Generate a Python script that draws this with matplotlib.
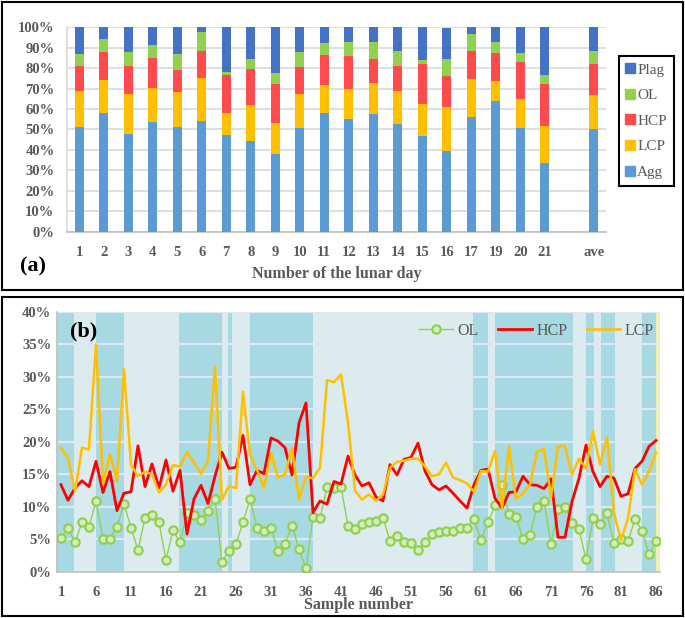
import numpy as np
import matplotlib
matplotlib.use("Agg")
import matplotlib.pyplot as plt
from matplotlib.lines import Line2D
from matplotlib.patches import Rectangle

plt.rcParams['font.family'] = ['Liberation Serif', 'DejaVu Serif']

### panel (a) data: percent of each phase per lunar day
days = ['1', '2', '3', '4', '5', '6', '7', '8', '9', '10', '11', '12', '13',
        '14', '15', '16', '17', '19', '20', '21', 'ave']
agg = [51.1, 57.9, 47.6, 53.5, 51.4, 54.0, 47.1, 44.4, 38.2, 50.9, 58.1, 55.1,
       57.4, 52.7, 46.8, 39.3, 56.3, 64.1, 50.9, 33.8, 50.2]
lcp_a = [17.7, 16.5, 19.9, 16.6, 17.1, 21.2, 11.0, 17.8, 15.1, 16.3, 13.8, 14.9,
         15.5, 16.1, 15.7, 21.5, 18.4, 9.6, 14.0, 18.1, 16.7]
hcp_a = [12.3, 13.5, 13.6, 14.7, 10.8, 13.2, 18.4, 17.4, 18.8, 13.6, 14.4, 16.0,
         11.4, 12.4, 19.6, 15.2, 13.9, 13.6, 18.3, 20.2, 15.2]
ol_a = [5.8, 6.2, 6.7, 6.6, 7.5, 9.3, 1.6, 5.1, 5.6, 7.1, 6.2, 7.0,
        8.7, 7.1, 1.7, 8.3, 8.0, 5.4, 4.4, 4.7, 6.2]
plag = [13.1, 5.9, 12.2, 8.6, 13.2, 2.3, 21.9, 15.3, 22.3, 12.1, 7.5, 7.0,
        7.0, 11.7, 16.2, 15.2, 3.4, 7.3, 12.4, 23.2, 11.7]

### panel (b) data: percent per sample
samples = np.arange(1, 87)
ol_b = [5.2, 6.7, 4.5, 7.6, 6.9, 10.9, 5.0, 5.0, 6.9, 10.4, 6.8, 3.3, 8.3, 8.7,
        7.6, 1.8, 6.4, 4.5, 9.0, 8.8, 7.9, 9.4, 11.2, 1.5, 3.2, 4.3, 7.6, 11.2,
        6.8, 6.3, 6.8, 3.2, 4.3, 7.1, 3.5, 0.5, 8.5, 8.2, 13.0, 12.9, 13.1, 7.1,
        6.5, 7.4, 7.7, 7.8, 8.3, 4.7, 5.5, 4.6, 4.4, 3.3, 4.6, 5.8, 6.1, 6.2,
        6.3, 6.7, 6.7, 8.1, 4.9, 7.6, 10.2, 13.3, 8.9, 8.5, 5.0, 5.7, 10.0, 10.9,
        4.2, 9.6, 10.0, 7.5, 6.5, 1.9, 8.2, 7.4, 9.0, 4.4, 5.1, 4.7, 8.1, 6.3,
        2.7, 4.7]
hcp_b = [13.4, 11.0, 12.9, 14.0, 13.1, 17.0, 12.2, 15.4, 9.4, 12.1, 12.3, 19.4,
         13.1, 16.6, 12.9, 17.2, 12.4, 15.6, 5.8, 11.2, 13.3, 10.5, 14.7, 18.4,
         15.9, 16.1, 21.0, 13.4, 15.6, 15.1, 20.6, 20.1, 19.1, 14.9, 22.9, 26.0,
         9.1, 10.9, 10.4, 13.9, 13.5, 17.8, 14.9, 13.2, 13.7, 11.5, 10.9, 16.5,
         14.9, 17.3, 17.6, 19.8, 15.5, 13.4, 12.6, 13.2, 12.1, 10.9, 9.8, 13.4,
         15.6, 15.8, 11.3, 9.8, 12.2, 12.3, 14.7, 13.4, 13.3, 12.8, 14.3, 5.3,
         5.3, 10.8, 14.4, 19.5, 15.4, 13.1, 14.7, 14.4, 11.6, 12.0, 15.9, 17.0,
         19.3, 20.2]
lcp_b = [19.1, 17.5, 12.4, 19.1, 18.8, 35.0, 13.6, 18.1, 13.9, 31.2, 16.5, 14.7,
         15.4, 15.0, 12.2, 13.4, 16.4, 16.2, 18.4, 16.8, 15.1, 17.0, 31.6, 11.1,
         13.2, 12.9, 27.7, 18.0, 15.7, 12.9, 18.3, 14.5, 15.0, 19.0, 11.1, 14.6,
         14.4, 16.0, 29.5, 29.2, 30.4, 23.0, 12.5, 11.1, 11.9, 10.9, 11.9, 16.0,
         16.9, 17.1, 17.4, 17.4, 16.2, 14.7, 15.0, 16.8, 14.5, 14.1, 13.6, 12.3,
         15.5, 15.4, 18.6, 9.8, 19.3, 11.2, 12.1, 13.4, 18.5, 18.9, 11.4, 19.3,
         19.4, 15.0, 17.4, 15.9, 21.6, 16.5, 20.7, 9.0, 4.9, 8.2, 15.8, 13.4,
         15.4, 18.4]

### background bands of panel (b), in sample units
dark_bands = [(0.43, 2.86), (6.0, 10.0), (17.86, 24.0), (24.86, 25.43),
              (28.0, 37.0), (59.86, 62.0), (63.0, 74.14), (76.0, 77.14),
              (78.14, 80.14), (84.0, 86.0)]

gray = '#595959'
tick_font = {'family': 'Liberation Serif', 'weight': 'bold', 'size': 10.5}

fig = plt.figure(figsize=(6.85, 6.18), dpi=100)

### panel frames
for y0, y1 in [(2, 290), (297, 616)]:
    fig.patches.append(Rectangle((2 / 685, 1 - y1 / 618), 681 / 685, (y1 - y0) / 618,
                                 transform=fig.transFigure, fill=False,
                                 ec='black', lw=1.5))

########################################### panel (a) ###########################################
ax1 = fig.add_axes([67 / 685, 1 - 231.7 / 618, 539 / 685, 204.4 / 618])
x = np.arange(len(days), dtype=float)
x[-1] += 1  ### empty slot before the average bar
w = 0.38
colors = {'Agg': '#5b9bd5', 'LCP': '#ffc000', 'HCP': '#ff4b4b',
          'OL': '#92d050', 'Plag': '#4472c4'}
bottom = np.zeros(len(days))
for name, vals in [('Agg', agg), ('LCP', lcp_a), ('HCP', hcp_a), ('OL', ol_a), ('Plag', plag)]:
    ax1.bar(x, vals, w, bottom=bottom, color=colors[name], zorder=3)
    bottom += np.array(vals)

ax1.set_xlim(-0.5, len(days) + 0.5)
ax1.set_ylim(0, 100)
ax1.set_yticks(np.arange(0, 101, 10))
ax1.set_yticklabels([f"{v}%" for v in range(0, 101, 10)], fontdict=tick_font, color=gray)
ax1.set_xticks(x)
ax1.set_xticklabels(days, fontdict=tick_font, color=gray)
ax1.tick_params(axis='both', length=0)
ax1.tick_params(axis='x', pad=10)
ax1.tick_params(axis='y', pad=9)
ax1.grid(axis='y', color='#d9d9d9', lw=1.2, zorder=0)
for s in ['top', 'right']:
    ax1.spines[s].set_visible(False)
ax1.spines['left'].set_color('#d9d9d9')
ax1.spines['bottom'].set_color('#bfbfbf')
ax1.spines['left'].set_linewidth(1.2)
ax1.spines['bottom'].set_linewidth(1.2)
ax1.set_xlabel('Number of the lunar day', fontsize=11.5, fontweight='bold',
               color=gray, labelpad=5)
fig.text(20 / 685, 1 - 266 / 618, '(a)', fontsize=16, fontweight='bold', va='center')

handles = [Line2D([], [], marker='s', ls='none', color=colors[n], markersize=6.5)
           for n in ['Plag', 'OL', 'HCP', 'LCP', 'Agg']]
leg = fig.legend(handles, ['Plag', 'OL', 'HCP', 'LCP', 'Agg'], loc='upper left',
                 bbox_to_anchor=(619 / 685, 1 - 56 / 618), borderaxespad=0,
                 fancybox=False, edgecolor='black', framealpha=1,
                 prop={'family': 'Liberation Serif', 'size': 11},
                 handlelength=0.6, handletextpad=0.15, labelspacing=0.78,
                 borderpad=0.45)
leg.get_frame().set_linewidth(1.5)
for t in leg.get_texts():
    t.set_color(gray)

########################################### panel (b) ###########################################
ax2 = fig.add_axes([57 / 685, 1 - 571.7 / 618, 603 / 685, 259.7 / 618])
ax2.set_facecolor('#dcecee')
for a, b in dark_bands:
    ax2.axvspan(a, b, color='#a6d9e1', lw=0, zorder=0.2)
ax2.axvspan(86.0, 86.45, color='#eef0b8', lw=0, zorder=0.2)
ax2.set_axisbelow(True)
ax2.grid(axis='y', color='#dde6f4', lw=1.6)

ax2.plot(samples, ol_b, color='#92d050', lw=1, marker='o', markersize=6,
         markerfacecolor='#d5ebc0', markeredgecolor='#92d050', markeredgewidth=1.6,
         label='OL', zorder=3)
ax2.plot(samples, hcp_b, color='#ff0000', lw=2, label='HCP', zorder=4)
ax2.plot(samples, lcp_b, color='#ffc000', lw=1.8, label='LCP', zorder=5)

ax2.set_xlim(0.43, 86.57)
ax2.set_ylim(0, 40)
ax2.set_yticks(np.arange(0, 41, 5))
ax2.set_yticklabels([f"{v}%" for v in range(0, 41, 5)], fontdict=tick_font, color=gray)
ax2.set_xticks(np.arange(1, 87, 5))
ax2.set_xticklabels([str(v) for v in range(1, 87, 5)], fontdict=tick_font, color=gray)
ax2.tick_params(axis='both', length=0)
ax2.tick_params(axis='x', pad=10)
ax2.tick_params(axis='y', pad=4)
for s in ['top', 'right']:
    ax2.spines[s].set_visible(False)
ax2.spines['left'].set_color('#bfbfbf')
ax2.spines['bottom'].set_color('#bfbfbf')
ax2.spines['left'].set_linewidth(1.2)
ax2.spines['bottom'].set_linewidth(1.2)
ax2.set_xlabel('Sample number', fontsize=11.5, fontweight='bold', color=gray, labelpad=-1)
ax2.text(70 / 685, 1 - 331 / 618, '(b)', transform=fig.transFigure, fontsize=16,
         fontweight='bold', va='center', zorder=6)

leg2 = ax2.legend(loc='center right', bbox_to_anchor=(654 / 685, 1 - 331 / 618),
                  bbox_transform=fig.transFigure, ncol=3, frameon=False,
                  prop={'family': 'Liberation Serif', 'size': 11.5},
                  handlelength=2.1, handletextpad=0.3, columnspacing=1.2,
                  borderaxespad=0, borderpad=0)
for t in leg2.get_texts():
    t.set_color(gray)

fig.savefig('out.png', dpi=100)
